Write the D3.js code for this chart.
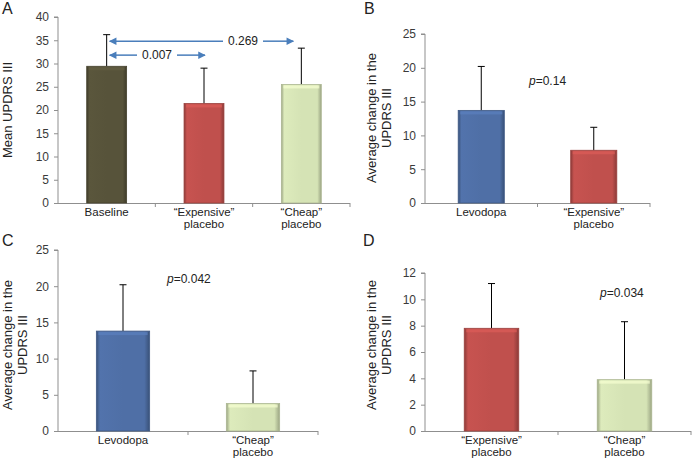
<!DOCTYPE html>
<html>
<head>
<meta charset="utf-8">
<script src="https://cdn.jsdelivr.net/npm/d3@7"></script>
<style>
  body { margin: 0; background: #fff; }
  svg { font-family: "Liberation Sans", Arial, sans-serif; }
</style>
</head>
<body>
<svg width="693" height="458"></svg>
<script>
// data
const catsA = [ 'Baseline', '“Expensive”|placebo', '“Cheap”|placebo' ];
const meanA = [ 29.4, 21.4, 25.5 ];
const errA  = [ 36.2, 29.0, 33.3 ];

const catsB = [ 'Levodopa', '“Expensive”|placebo' ];
const meanB = [ 13.7, 7.8 ];
const errB  = [ 20.2, 11.2 ];

const catsC = [ 'Levodopa', '“Cheap”|placebo' ];
const meanC = [ 13.8, 3.8 ];
const errC  = [ 20.2, 8.3 ];

const catsD = [ '“Expensive”|placebo', '“Cheap”|placebo' ];
const meanD = [ 7.8, 3.9 ];
const errD  = [ 11.2, 8.3 ];

const colours = {
  'Baseline': '#57533a',
  'Levodopa': '#4f6fa6',
  '“Expensive”|placebo': '#c0504d',
  '“Cheap”|placebo': '#d5e3b5'
};

const svg = d3.select( 'svg' );
const defs = svg.append( 'defs' );

// bevel-ish gradient for each colour
Object.entries( colours ).forEach( ( [ k, c ], i ) => {
  const g = defs.append( 'linearGradient' ).attr( 'id', 'grad' + i )
    .attr( 'x1', 0 ).attr( 'x2', 1 ).attr( 'y1', 0 ).attr( 'y2', 0 );
  const dark = d3.color( c ).darker( 0.9 );
  const mid = d3.color( c );
  [ [ 0, dark ], [ 0.07, mid.brighter( 0.1 ) ], [ 0.5, mid ], [ 0.9, mid ], [ 1, dark ] ]
    .forEach( s => g.append( 'stop' ).attr( 'offset', s[ 0 ] ).attr( 'stop-color', s[ 1 ] ) );
  colours[ k ] = { base: c, id: 'grad' + i };
} );

defs.append( 'marker' ).attr( 'id', 'arrow' )
  .attr( 'viewBox', '0 0 10 10' ).attr( 'refX', 9 ).attr( 'refY', 5 )
  .attr( 'markerWidth', 6 ).attr( 'markerHeight', 5 )
  .attr( 'markerUnits', 'strokeWidth' ).attr( 'orient', 'auto-start-reverse' )
  .append( 'path' ).attr( 'd', 'M0,0L10,5L0,10z' ).attr( 'fill', '#4a7ebb' );

function drawPanel( cfg ) {
  const x = d3.scaleBand().domain( cfg.cats ).range( [ cfg.left, cfg.right ] );
  const y = d3.scaleLinear().domain( [ 0, cfg.max ] ).range( [ cfg.bottom, cfg.top ] );
  const g = svg.append( 'g' );

  // y axis
  const ya = g.append( 'g' ).attr( 'transform', `translate(${cfg.left},0)` )
    .call( d3.axisLeft( y ).tickValues( d3.range( 0, cfg.max + 0.01, cfg.step ) ).tickSize( 4 ).tickPadding( 5 ) );
  ya.select( '.domain' ).attr( 'stroke', '#8f8f8f' ).attr( 'd', `M-4,${y( cfg.max )}H0V${y( 0 )}` );
  ya.selectAll( '.tick line' ).attr( 'stroke', '#8f8f8f' );
  ya.selectAll( 'text' ).attr( 'font-size', 12 ).attr( 'fill', '#3a3a3a' ).attr( 'font-family', null );

  // x axis: line with ticks at category boundaries
  g.append( 'line' ).attr( 'x1', cfg.left ).attr( 'x2', cfg.right )
    .attr( 'y1', y( 0 ) + 0.5 ).attr( 'y2', y( 0 ) + 0.5 ).attr( 'stroke', '#8f8f8f' );
  g.selectAll( '.xt' ).data( cfg.cats ).join( 'line' )
    .attr( 'x1', d => x( d ) + x.bandwidth() ).attr( 'x2', d => x( d ) + x.bandwidth() )
    .attr( 'y1', y( 0 ) ).attr( 'y2', y( 0 ) + 4 ).attr( 'stroke', '#8f8f8f' );

  const bw = x.bandwidth() * 0.41;
  const cx = d => x( d ) + x.bandwidth() / 2;

  // error bars (upper only)
  g.selectAll( '.err' ).data( cfg.cats ).join( 'path' )
    .attr( 'd', ( d, i ) => `M${cx( d )},${y( cfg.mean[ i ] )}V${y( cfg.err[ i ] )}m-3.5,0h7` )
    .attr( 'stroke', '#000' ).attr( 'fill', 'none' );

  // bars
  g.selectAll( '.bar' ).data( cfg.cats ).join( 'rect' )
    .attr( 'x', d => cx( d ) - bw / 2 )
    .attr( 'y', ( d, i ) => y( cfg.mean[ i ] ) )
    .attr( 'width', bw )
    .attr( 'height', ( d, i ) => y( 0 ) - y( cfg.mean[ i ] ) )
    .attr( 'fill', d => `url(#${colours[ d ].id})` )
    .attr( 'stroke', d => d3.color( colours[ d ].base ).darker( 0.6 ) )
    .attr( 'stroke-width', 0.8 );
  // top highlight
  g.selectAll( '.hl' ).data( cfg.cats ).join( 'rect' )
    .attr( 'x', d => cx( d ) - bw / 2 + 2 )
    .attr( 'y', ( d, i ) => y( cfg.mean[ i ] ) + 1 )
    .attr( 'width', bw - 4 ).attr( 'height', 3 )
    .attr( 'fill', d => d3.color( colours[ d ].base ).brighter( 0.4 ) ).attr( 'opacity', 0.7 );

  // category labels
  const lab = g.selectAll( '.cl' ).data( cfg.cats ).join( 'text' )
    .attr( 'text-anchor', 'middle' ).attr( 'font-size', 11.5 ).attr( 'fill', '#222' );
  lab.each( function( d ) {
    d3.select( this ).selectAll( 'tspan' ).data( d.split( '|' ) ).join( 'tspan' )
      .attr( 'x', cx( d ) ).attr( 'y', ( t, j ) => y( 0 ) + 13 + j * 11.5 ).text( t => t );
  } );

  // y title
  const yt = g.append( 'text' ).attr( 'text-anchor', 'middle' ).attr( 'font-size', 13 ).attr( 'fill', '#222' )
    .attr( 'transform', `translate(${cfg.titleX},${cfg.titleY}) rotate(-90)` );
  yt.selectAll( 'tspan' ).data( cfg.title ).join( 'tspan' )
    .attr( 'x', 0 ).attr( 'dy', ( t, j ) => j === 0 ? 0 : 15 ).text( t => t );

  // panel letter
  g.append( 'text' ).attr( 'x', cfg.letterX ).attr( 'y', cfg.letterY )
    .attr( 'font-size', 16 ).attr( 'fill', '#222' ).text( cfg.letter );

  // p value
  if ( cfg.p ) {
    const pt = g.append( 'text' ).attr( 'x', cfg.p[ 0 ] ).attr( 'y', y( cfg.p[ 1 ] ) )
      .attr( 'font-size', 12 ).attr( 'fill', '#222' );
    pt.append( 'tspan' ).attr( 'font-style', 'italic' ).text( 'p' );
    pt.append( 'tspan' ).text( '=' + cfg.p[ 2 ] );
  }
  return { x, y, cx, g };
}

const A = drawPanel( { cats: catsA, mean: meanA, err: errA, left: 58, right: 350, top: 17, bottom: 203,
  max: 40, step: 5, title: [ 'Mean UPDRS III' ], titleX: 12, titleY: 110, letter: 'A', letterX: 2, letterY: 14 } );
drawPanel( { cats: catsB, mean: meanB, err: errB, left: 425, right: 650, top: 34, bottom: 203,
  max: 25, step: 5, title: [ 'Average change in the', 'UPDRS III' ], titleX: 376, titleY: 118,
  letter: 'B', letterX: 364, letterY: 14, p: [ 529, 17.5, '0.14' ] } );
drawPanel( { cats: catsC, mean: meanC, err: errC, left: 58, right: 318, top: 250, bottom: 431,
  max: 25, step: 5, title: [ 'Average change in the', 'UPDRS III' ], titleX: 12, titleY: 345,
  letter: 'C', letterX: 2, letterY: 246, p: [ 167, 20.5, '0.042' ] } );
drawPanel( { cats: catsD, mean: meanD, err: errD, left: 425, right: 691, top: 273, bottom: 431,
  max: 12, step: 2, title: [ 'Average change in the', 'UPDRS III' ], titleX: 376, titleY: 345,
  letter: 'D', letterX: 363, letterY: 246, p: [ 600, 10.2, '0.034' ] } );

// comparison arrows in panel A
const arrows = [
  { from: catsA[ 0 ], to: catsA[ 2 ], v: 34.8, label: '0.269', gap: [ 223, 263 ], toOff: -8 },
  { from: catsA[ 0 ], to: catsA[ 1 ], v: 31.8, label: '0.007', gap: [ 137, 177 ], toOff: 1 }
];
arrows.forEach( a => {
  const yy = A.y( a.v );
  const x0 = A.cx( a.from ) + 3, x1 = A.cx( a.to ) + a.toOff;
  A.g.append( 'line' ).attr( 'x1', a.gap[ 0 ] ).attr( 'x2', x0 ).attr( 'y1', yy ).attr( 'y2', yy )
    .attr( 'stroke', '#4a7ebb' ).attr( 'stroke-width', 1.5 ).attr( 'marker-end', 'url(#arrow)' );
  A.g.append( 'line' ).attr( 'x1', a.gap[ 1 ] ).attr( 'x2', x1 ).attr( 'y1', yy ).attr( 'y2', yy )
    .attr( 'stroke', '#4a7ebb' ).attr( 'stroke-width', 1.5 ).attr( 'marker-end', 'url(#arrow)' );
  A.g.append( 'text' ).attr( 'x', ( a.gap[ 0 ] + a.gap[ 1 ] ) / 2 ).attr( 'y', yy + 4 )
    .attr( 'text-anchor', 'middle' ).attr( 'font-size', 12 ).attr( 'fill', '#222' ).text( a.label );
} );
</script>
</body>
</html>
